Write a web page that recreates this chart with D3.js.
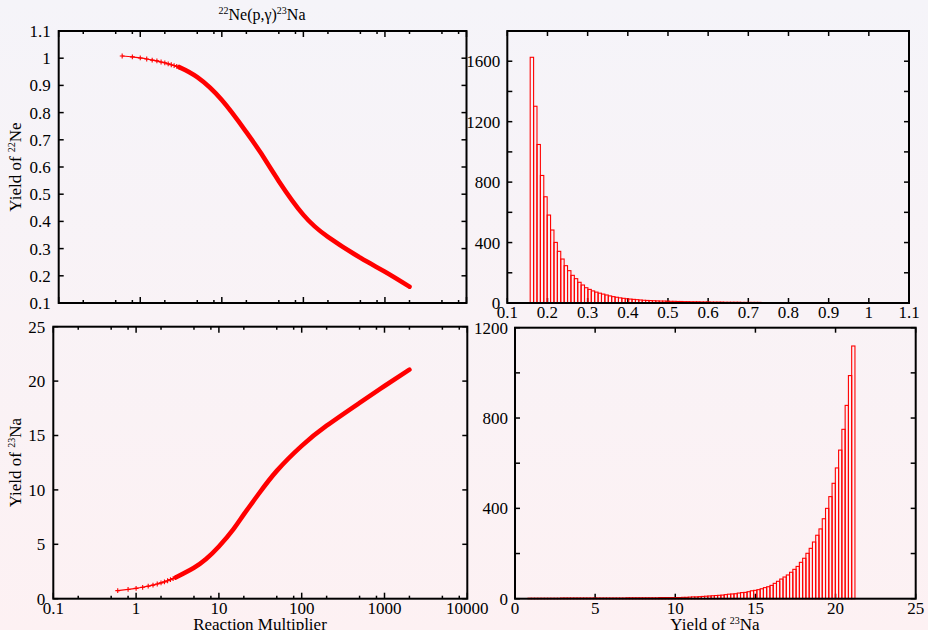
<!DOCTYPE html>
<html>
<head>
<meta charset="utf-8">
<script src="https://cdn.jsdelivr.net/npm/d3@7"></script>
<style>
html, body { margin: 0; padding: 0; background: #f8f3f6; }
svg { display: block; font-family: "Liberation Serif", "DejaVu Serif", serif; }
</style>
</head>
<body>
<svg id="chart" width="928" height="630"></svg>
<script>
// Yield of 22Ne vs reaction multiplier
const neMult = [0.6, 0.8, 1.0, 1.2, 1.4, 1.6, 1.8, 2.0, 2.2, 2.4, 2.6, 2.8, 3.0,
    5, 10, 20, 30, 50, 100, 200, 500, 1000, 2000];
const neYield = [1.008, 1.005, 1.001, 0.997, 0.993, 0.990, 0.986, 0.983, 0.979, 0.976, 0.973, 0.970, 0.967,
    0.930, 0.846, 0.728, 0.652, 0.548, 0.424, 0.343, 0.266, 0.215, 0.160];

// Yield of 23Na vs reaction multiplier
const naMult = [0.6, 0.8, 1.0, 1.2, 1.4, 1.6, 1.8, 2.0, 2.2, 2.4, 2.6, 2.8, 3.0,
    5, 7, 10, 15, 20, 30, 50, 100, 200, 500, 1000, 2000];
const naYield = [0.74, 0.85, 0.95, 1.05, 1.15, 1.25, 1.35, 1.45, 1.55, 1.65, 1.75, 1.85, 1.95,
    2.85, 3.65, 4.80, 6.40, 7.75, 9.60, 11.75, 14.05, 15.90, 18.00, 19.55, 21.05];

// histogram of 22Ne yield (100 bins)
const neBinStart = 0.157;
const neBinWidth = 0.00845;
const neCounts = [1626, 1302, 1049, 844, 703, 582, 483, 401, 342, 291,
    247, 214, 183, 161, 137, 119, 101, 90, 80, 72,
    65, 59, 53, 47, 42, 38, 34, 31, 28, 26,
    24, 22, 20, 18, 17, 16, 15, 14, 13, 13,
    12, 11, 11, 10, 10, 9, 9, 8, 8, 8,
    7, 7, 7, 6, 6, 6, 6, 5, 5, 5,
    5, 5, 4, 4, 4, 4, 4, 4, 3, 3,
    3, 3, 3, 3, 3, 3, 2, 2, 2, 2,
    2, 2, 2, 2, 2, 2, 2, 2, 2, 1,
    1, 1, 1, 1, 1, 1, 1, 1, 1, 1];

// histogram of 23Na yield (100 bins)
const naBinStart = 0.81;
const naBinWidth = 0.204;
const naCounts = [2, 2, 2, 2, 2, 2, 2, 2, 2, 2,
    3, 3, 3, 3, 3, 3, 3, 3, 3, 3,
    3, 3, 3, 3, 3, 3, 3, 3, 3, 3,
    4, 4, 4, 4, 4, 4, 4, 4, 4, 4,
    5, 5, 5, 5, 5, 5, 5, 6, 6, 7,
    8, 8, 9, 10, 11, 12, 13, 14, 15, 16,
    18, 20, 21, 22, 25, 27, 28, 31, 35, 37,
    40, 44, 49, 53, 59, 68, 77, 87, 96, 105,
    117, 130, 143, 161, 179, 201, 223, 251, 281, 309,
    354, 400, 452, 511, 579, 658, 750, 856, 988, 1119];

const logTicks = [0.1, 1, 10, 100, 1000, 10000];
const logMinor = [2, 5, 8];

const svg = d3.select("#chart");

// fond en dégradé
const grad = svg.append("defs").append("linearGradient")
    .attr("id", "bg").attr("x1", 0).attr("y1", 0).attr("x2", 0).attr("y2", 1);
grad.append("stop").attr("offset", "0%").attr("stop-color", "#f5f4f9");
grad.append("stop").attr("offset", "100%").attr("stop-color", "#fdf1f3");
svg.append("rect").attr("width", 928).attr("height", 630).attr("fill", "url(#bg)");

const red = "#ff0000";

function ticksX(g, x, p, values, len) {
    values.forEach(function (v) {
        const px = x(v);
        g.append("line").attr("x1", px).attr("x2", px).attr("y1", p.bottom).attr("y2", p.bottom - len)
            .attr("stroke", "#000").attr("stroke-width", 1.5);
        g.append("line").attr("x1", px).attr("x2", px).attr("y1", p.top).attr("y2", p.top + len)
            .attr("stroke", "#000").attr("stroke-width", 1.5);
    });
}

function ticksY(g, y, p, values, len) {
    values.forEach(function (v) {
        const py = y(v);
        g.append("line").attr("x1", p.left).attr("x2", p.left + len).attr("y1", py).attr("y2", py)
            .attr("stroke", "#000").attr("stroke-width", 1.5);
        g.append("line").attr("x1", p.right).attr("x2", p.right - len).attr("y1", py).attr("y2", py)
            .attr("stroke", "#000").attr("stroke-width", 1.5);
    });
}

function labelsX(g, x, p, values, fmt) {
    values.forEach(function (v) {
        g.append("text").attr("x", x(v)).attr("y", p.bottom + 15)
            .attr("text-anchor", "middle").style("font-size", "17px").text(fmt(v));
    });
}

function labelsY(g, y, p, values, fmt, gap) {
    values.forEach(function (v) {
        g.append("text").attr("x", p.left - gap).attr("y", y(v)).attr("dy", "0.35em")
            .attr("text-anchor", "end").style("font-size", "17px").text(fmt(v));
    });
}

function frame(g, p) {
    g.append("rect").attr("x", p.left).attr("y", p.top)
        .attr("width", p.right - p.left).attr("height", p.bottom - p.top)
        .attr("fill", "none").attr("stroke", "#000").attr("stroke-width", 2);
}

function minorLog() {
    const out = [];
    for (let d = 0.1; d < 10000; d *= 10) {
        logMinor.forEach(m => out.push(d * m));
    }
    return out;
}

function superText(sel, parts) {
    // parts : [texte, exposant?]
    parts.forEach(function (pt) {
        if (pt.sup) {
            sel.append("tspan").attr("dy", "-6").style("font-size", "10px").text(pt.t);
        } else {
            sel.append("tspan").attr("dy", pt.after ? "6" : "0").text(pt.t);
        }
    });
}

function drawCurve(g, x, y, xs, ys, bandFrom) {
    const pts = xs.map((v, i) => [x(v), y(ys[i])]);
    const line = d3.line().curve(d3.curveNatural);
    g.append("path").attr("d", line(pts)).attr("fill", "none")
        .attr("stroke", red).attr("stroke-width", 1.2);
    // bande épaisse là où les marqueurs se chevauchent
    const band = pts.filter((d, i) => xs[i] >= bandFrom);
    g.append("path").attr("d", line(band)).attr("fill", "none")
        .attr("stroke", red).attr("stroke-width", 4.6).attr("stroke-linecap", "round");
    const s = 2.4;
    pts.forEach(function (d, i) {
        if (xs[i] > bandFrom) return;
        g.append("path").attr("d", `M${d[0] - s},${d[1]}H${d[0] + s}M${d[0]},${d[1] - s}V${d[1] + s}`)
            .attr("stroke", red).attr("stroke-width", 1.1);
    });
}

function drawHist(g, x, y, start, width, counts) {
    g.selectAll("rect.bar").data(counts).enter().append("rect")
        .attr("class", "bar")
        .attr("x", (d, i) => x(start + i * width))
        .attr("width", (d, i) => x(start + (i + 1) * width) - x(start + i * width))
        .attr("y", d => y(d))
        .attr("height", d => y(0) - y(d))
        .attr("fill", "none")
        .attr("stroke", red)
        .attr("stroke-width", 1.1);
}

const fmt1 = v => String(+v.toFixed(1));
const fmt0 = v => String(v);

// ---- panneau haut gauche : 22Ne ----
const p1 = { left: 58.7, right: 466.5, top: 31, bottom: 303 };
const g1 = svg.append("g");
const x1 = d3.scaleLog().domain([0.1, 10000]).range([p1.left, p1.right]);
const y1 = d3.scaleLinear().domain([0.1, 1.1]).range([p1.bottom, p1.top]);
ticksX(g1, x1, p1, logTicks, 6);
ticksX(g1, x1, p1, minorLog(), 3);
const y1Ticks = d3.range(1, 12).map(i => i / 10);
ticksY(g1, y1, p1, y1Ticks, 5);
labelsY(g1, y1, p1, y1Ticks, fmt1, 8);
drawCurve(g1, x1, y1, neMult, neYield, 3.0);
frame(g1, p1);

const t1 = svg.append("text").attr("x", 262).attr("y", 20).attr("text-anchor", "middle").style("font-size", "16px");
superText(t1, [{ t: "22", sup: true }, { t: "Ne(p,γ)", after: true }, { t: "23", sup: true }, { t: "Na", after: true }]);

const l1 = svg.append("text").attr("transform", "translate(20.5,167) rotate(-90)")
    .attr("text-anchor", "middle").style("font-size", "17px");
superText(l1, [{ t: "Yield of " }, { t: "22", sup: true }, { t: "Ne", after: true }]);

// ---- panneau haut droit : histogramme 22Ne ----
const p2 = { left: 507.3, right: 909, top: 31, bottom: 303 };
const g2 = svg.append("g");
const x2 = d3.scaleLinear().domain([0.1, 1.1]).range([p2.left, p2.right]);
const y2 = d3.scaleLinear().domain([0, 1800]).range([p2.bottom, p2.top]);
const x2Ticks = d3.range(1, 12).map(i => i / 10);
ticksX(g2, x2, p2, x2Ticks, 5);
labelsX(g2, x2, p2, x2Ticks, fmt1);
ticksY(g2, y2, p2, d3.range(0, 1801, 200), 5);
labelsY(g2, y2, p2, d3.range(0, 1601, 400), fmt0, 7);
drawHist(g2, x2, y2, neBinStart, neBinWidth, neCounts);
frame(g2, p2);

// ---- panneau bas gauche : 23Na ----
const p3 = { left: 53.3, right: 467.3, top: 326.7, bottom: 598.7 };
const g3 = svg.append("g");
const x3 = d3.scaleLog().domain([0.1, 10000]).range([p3.left, p3.right]);
const y3 = d3.scaleLinear().domain([0, 25]).range([p3.bottom, p3.top]);
ticksX(g3, x3, p3, logTicks, 6);
ticksX(g3, x3, p3, minorLog(), 3);
labelsX(g3, x3, p3, logTicks, fmt0);
const y3Ticks = d3.range(0, 26, 5);
ticksY(g3, y3, p3, y3Ticks, 5);
labelsY(g3, y3, p3, y3Ticks, fmt0, 8);
drawCurve(g3, x3, y3, naMult, naYield, 3.0);
frame(g3, p3);

const l3 = svg.append("text").attr("transform", "translate(21,462.7) rotate(-90)")
    .attr("text-anchor", "middle").style("font-size", "17px");
superText(l3, [{ t: "Yield of " }, { t: "23", sup: true }, { t: "Na", after: true }]);

svg.append("text").attr("x", 260).attr("y", 630).attr("text-anchor", "middle")
    .style("font-size", "17px").text("Reaction Multiplier");

// ---- panneau bas droit : histogramme 23Na ----
const p4 = { left: 515, right: 915.7, top: 327.7, bottom: 598.7 };
const g4 = svg.append("g");
const x4 = d3.scaleLinear().domain([0, 25]).range([p4.left, p4.right]);
const y4 = d3.scaleLinear().domain([0, 1200]).range([p4.bottom, p4.top]);
const x4Ticks = d3.range(0, 26, 5);
ticksX(g4, x4, p4, x4Ticks, 5);
labelsX(g4, x4, p4, x4Ticks, fmt0);
ticksY(g4, y4, p4, d3.range(0, 1201, 200), 5);
labelsY(g4, y4, p4, d3.range(0, 1201, 400), fmt0, 7);
drawHist(g4, x4, y4, naBinStart, naBinWidth, naCounts);
frame(g4, p4);

const l4 = svg.append("text").attr("x", 715).attr("y", 630).attr("text-anchor", "middle").style("font-size", "17px");
superText(l4, [{ t: "Yield of " }, { t: "23", sup: true }, { t: "Na", after: true }]);
</script>
</body>
</html>
